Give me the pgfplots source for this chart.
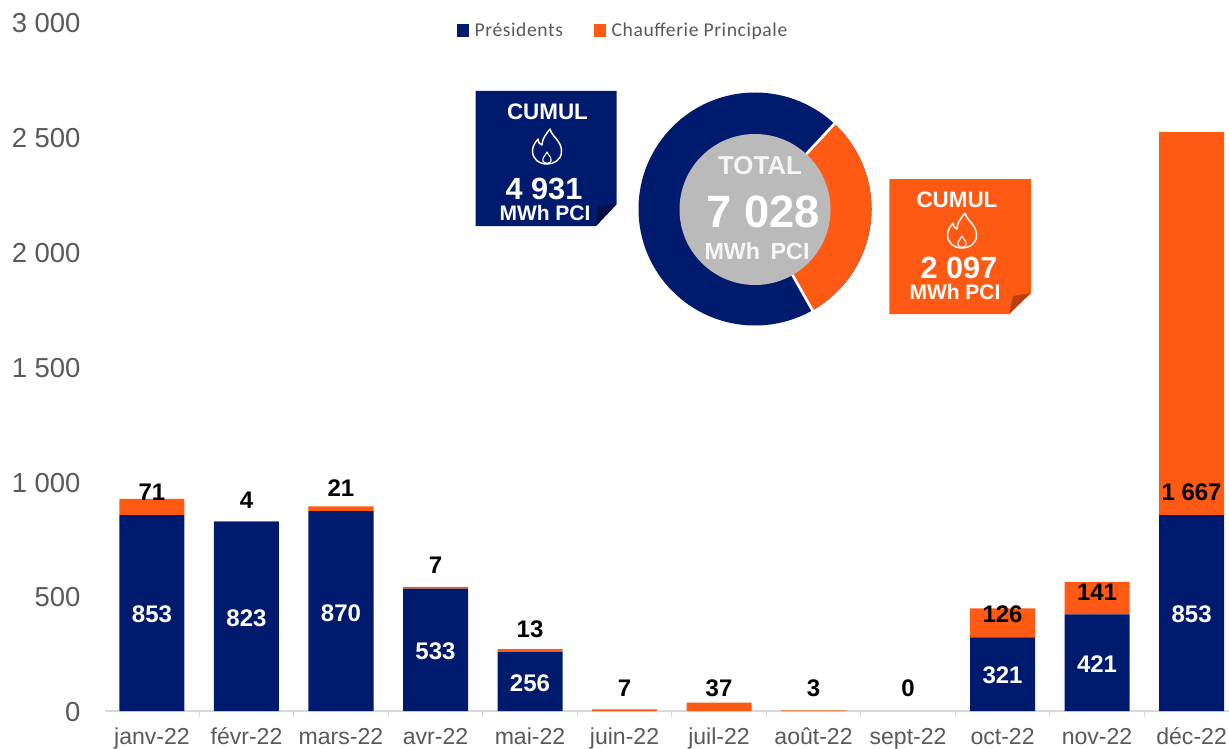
\documentclass[border=0pt]{standalone}
\usepackage{pgfplots}
\pgfplotsset{compat=1.18}
\usepackage{fontspec}
\setmainfont{Liberation Sans}
\newfontfamily\legfont[LetterSpace=3]{Carlito}
\definecolor{navy}{HTML}{001A6E}
\definecolor{orng}{HTML}{FF5A14}
\definecolor{navyd}{HTML}{001045}
\definecolor{orngd}{HTML}{B8420F}
\definecolor{tick}{HTML}{595959}
\definecolor{axl}{HTML}{D9D9D9}
\definecolor{donutc}{HTML}{BABABA}
\newcommand\flame[2]{%
 \begin{scope}[shift={(#1,#2)}]
  \draw[white,line width=1.1pt,line join=round]
   (3,-18) .. controls (5,-10) and (15,-6) .. (14.5,5)
   .. controls (14,13) and (7,17) .. (0,17)
   .. controls (-8,17) and (-14.5,12) .. (-14.5,4)
   .. controls (-14.5,-2) and (-11,-5) .. (-9,-8)
   .. controls (-9,-5) and (-8,-3) .. (-5,-2)
   .. controls (-5,-8) and (-1,-13) .. (3,-18) -- cycle;
  \draw[white,line width=0.8pt,line join=round]
   (0,5) .. controls (1,8) and (5,10) .. (4,14)
   .. controls (3,17) and (-3,17) .. (-4,14)
   .. controls (-5,11) and (-2,9) .. (0,5) -- cycle;
 \end{scope}}
\begin{document}
\begin{tikzpicture}
\begin{axis}[
  at={(78.9pt,-533.25pt)},anchor=south west,
  scale only axis,width=842.85pt,height=516.75pt,
  xmin=-0.495,xmax=11.396,ymin=0,ymax=3000,
  ybar stacked,bar width=48.75pt,
  axis x line=bottom,axis y line=left,
  axis line style={-},
  x axis line style={draw=axl,line width=1.2pt},
  y axis line style={draw=none},
  tick align=outside,
  xtick={0,...,11},
  xticklabels={janv-22,févr-22,mars-22,avr-22,mai-22,juin-22,juil-22,août-22,sept-22,oct-22,nov-22,déc-22},
  x tick label style={font=\fontsize{17.3pt}{20pt}\selectfont,text=tick,anchor=base,yshift=-25pt},
  minor xtick={-0.5,0.5,1.5,2.5,3.5,4.5,5.5,6.5,7.5,8.5,9.5,10.5},
  major tick style={draw=none},
  minor tick style={draw=axl,line width=1pt},
  major tick length=0pt,minor tick length=4.5pt,
  ytick={0,500,1000,1500,2000,2500,3000},
  minor ytick={},
  yticklabels={0,500,1 000,1 500,2 000,2 500,3 000},
  y tick label style={font=\fontsize{20.6pt}{24pt}\selectfont,text=tick,anchor=east,xshift=-15pt,yshift=-1pt},
  legend style={at={(0.3125,0.9875)},anchor=west,draw=none,fill=none,legend columns=2,
    font=\legfont\fontsize{14.7pt}{16pt}\selectfont,text=tick,inner sep=0pt,
    /tikz/every odd column/.append style={column sep=2pt},
    /tikz/every even column/.append style={column sep=21pt}},
  legend image code/.code={\fill[#1] (0pt,-4.7pt) rectangle (9.5pt,4.7pt);},
  clip=false,
]
\addplot+[ybar,draw=none,fill=navy] coordinates {(0,853)(1,823)(2,870)(3,533)(4,256)(5,0)(6,0)(7,0)(8,0)(9,321)(10,421)(11,853)};
\addplot+[ybar,draw=none,fill=orng] coordinates {(0,71)(1,4)(2,21)(3,7)(4,13)(5,7)(6,37)(7,3)(8,0)(9,126)(10,141)(11,1667)};
\legend{Présidents,Chaufferie Principale}
\end{axis}
% value labels
\begin{axis}[
  at={(78.9pt,-533.25pt)},anchor=south west,
  scale only axis,width=842.85pt,height=516.75pt,
  xmin=-0.495,xmax=11.396,ymin=0,ymax=3000,
  hide axis,clip=false,
  point meta=explicit symbolic,
  nodes near coords,
]
\addplot[draw=none,mark=none,nodes near coords,
  every node near coord/.append style={anchor=center,text=white,font=\bfseries\fontsize{18pt}{20pt}\selectfont,inner sep=0pt}]
 coordinates {(0,422)[853](1,405)[823](2,427)[870](3,261)[533](4,122)[256](9,157)[321](10,205)[421](11,422)[853]};
\addplot[draw=none,mark=none,nodes near coords,
  every node near coord/.append style={anchor=center,text=black,font=\bfseries\fontsize{18pt}{20pt}\selectfont,inner sep=0pt}]
 coordinates {(0,953)[71](1,919)[4](2,971)[21](3,636)[7](4,357)[13](5,100)[7](6,100)[37](7,100)[3](8,100)[0](9,422)[126](10,518)[141](11,953)[1 667]};
\end{axis}
\begin{scope}[x=0.75pt,y=-0.75pt]
 % donut: angles follow the two totals
 \pgfmathsetmacro{\sweep}{2097/7028*360}
 \pgfmathsetmacro{\astart}{47}
 \pgfmathsetmacro{\aend}{\astart-\sweep}
 \fill[navy] (755,209) circle (116.5);
 \fill[orng] (755,209) -- ++(\astart:116.5 and -116.5) arc[start angle=-\astart,end angle=-\aend,radius=116.5] -- cycle;
 \draw[white,line width=2pt] (755,209) -- ++(\astart:120 and -120);
 \draw[white,line width=2pt] (755,209) -- ++(\aend:120 and -120);
 \fill[donutc] (755,209.5) circle (75.5);
 \node[text=white!96!black,font=\bfseries\fontsize{19.4pt}{22pt}\selectfont] at (760,166) {TOTAL};
 \node[text=white,font=\bfseries\fontsize{34pt}{38pt}\selectfont] at (763,212) {7 028};
 \node[text=white!97!black,font=\bfseries\fontsize{17.5pt}{20pt}\selectfont] at (757,251) {MWh\, PCI};
 % navy note
 \fill[navy] (475.6,91) -- (616.7,91) -- (616.7,204) -- (596,226) -- (475.6,226) -- cycle;
 \fill[navyd] (596,226) -- (598,207) -- (616.7,204) -- cycle;
 \node[text=white,font=\bfseries\fontsize{16.8pt}{19pt}\selectfont] at (547.5,112) {CUMUL};
 \flame{547}{147}
 \node[text=white,font=\bfseries\fontsize{23pt}{26pt}\selectfont] at (544,189) {4 931};
 \node[text=white,font=\bfseries\fontsize{15.75pt}{18pt}\selectfont] at (545,213) {MWh PCI};
 % orange note
 \fill[orng] (889.4,179) -- (1031,179) -- (1031,293) -- (1009,314) -- (889.4,314) -- cycle;
 \fill[orngd] (1009,314) -- (1013,296) -- (1031,293) -- cycle;
 \node[text=white,font=\bfseries\fontsize{16.8pt}{19pt}\selectfont] at (957,200) {CUMUL};
 \flame{962}{231}
 \node[text=white,font=\bfseries\fontsize{23pt}{26pt}\selectfont] at (959,268) {2 097};
 \node[text=white,font=\bfseries\fontsize{15.75pt}{18pt}\selectfont] at (955,292) {MWh PCI};
 \pgfresetboundingbox
 \path[use as bounding box] (0,0) rectangle (1229,749);
\end{scope}
\end{tikzpicture}
\end{document}
